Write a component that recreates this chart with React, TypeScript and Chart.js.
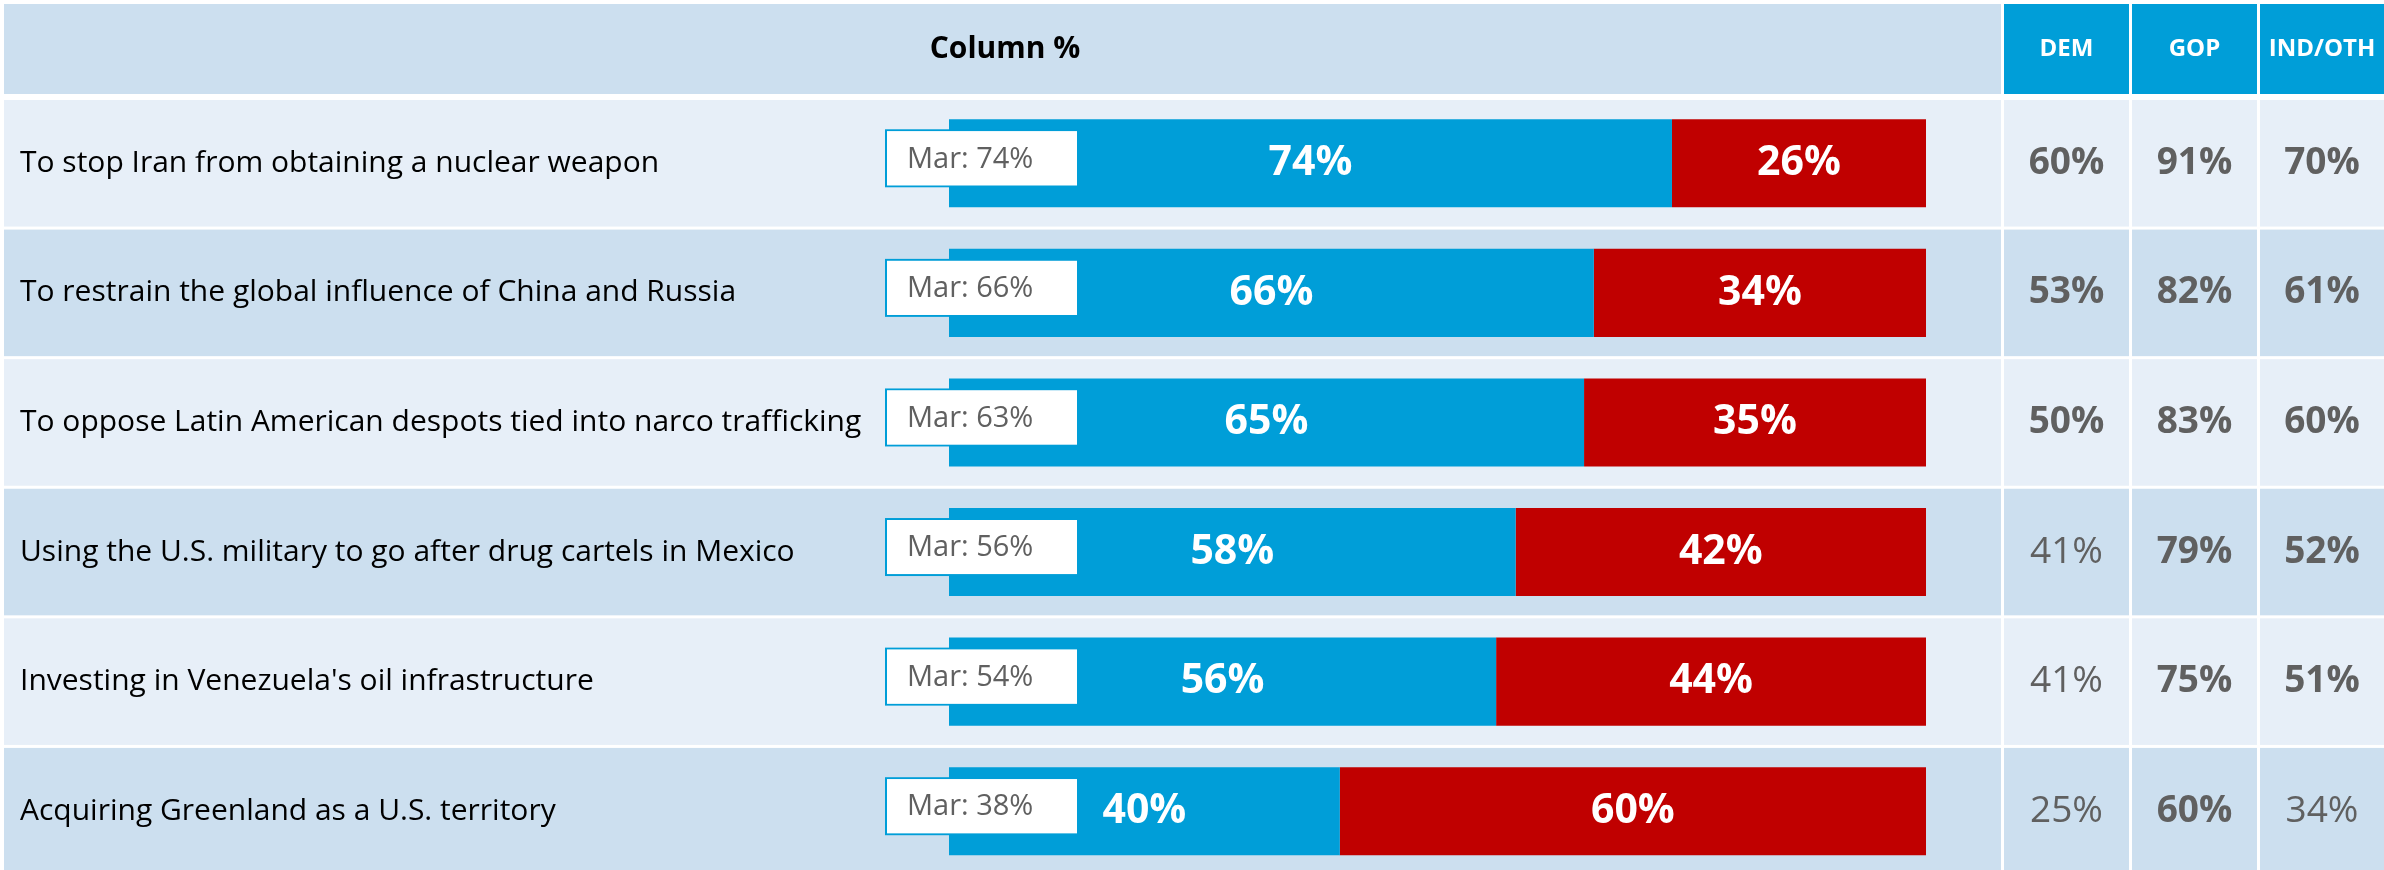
import React, { useEffect, useRef } from "react";
import { Chart, registerables } from "chart.js";

Chart.register(...registerables);

const categories = [
  "To stop Iran from obtaining a nuclear weapon",
  "To restrain the global influence of China and Russia",
  "To oppose Latin American despots tied into narco trafficking",
  "Using the U.S. military to go after drug cartels in Mexico",
  "Investing in Venezuela's oil infrastructure",
  "Acquiring Greenland as a U.S. territory",
];
const supportValues = [74, 66, 65, 58, 56, 40];
const opposeValues = [26, 34, 35, 42, 44, 60];
const marchValues = [74, 66, 63, 56, 54, 38];
const partyHeaders = ["DEM", "GOP", "IND/OTH"];
const demValues = [60, 53, 50, 41, 41, 25];
const gopValues = [91, 82, 83, 79, 75, 60];
const indValues = [70, 61, 60, 52, 51, 34];
const demBold = [true, true, true, false, false, false];
const gopBold = [true, true, true, true, true, true];
const indBold = [true, true, true, true, true, false];
const headerTitle = "Column %";
const marchPrefix = "Mar: ";

const BLUE = "#009ED8";
const RED = "#C00000";
const LIGHT = "#E7EFF8";
const DARK = "#CCDFEF";
const GRAY = "#606060";
const FONT = "'Open Sans', 'DejaVu Sans', sans-serif";

const W = 2384;
const H = 876;
const tableLeft = 4;
const labelColRight = 2001;
const partyCols = [
  [2004, 2129],
  [2132, 2257],
  [2260, 2384],
];

const tablePlugin = {
  id: "tablePlugin",
  beforeDatasetsDraw(chart: any) {
    const ctx = chart.ctx;
    const ys = chart.scales.y;
    const pitch = ys.getPixelForValue(1) - ys.getPixelForValue(0);
    ctx.save();
    ctx.fillStyle = "#FFFFFF";
    ctx.fillRect(0, 0, W, H);
    // header
    ctx.fillStyle = DARK;
    ctx.fillRect(tableLeft, 4, labelColRight - tableLeft, 90);
    partyCols.forEach(([a, b], k) => {
      ctx.fillStyle = BLUE;
      ctx.fillRect(a, 4, b - a, 90);
      ctx.fillStyle = "#FFFFFF";
      ctx.font = `bold 24px ${FONT}`;
      ctx.textAlign = "center";
      ctx.textBaseline = "middle";
      ctx.fillText(partyHeaders[k], (a + b) / 2, 49);
    });
    ctx.fillStyle = "#000000";
    ctx.font = `bold 30px ${FONT}`;
    ctx.textAlign = "center";
    ctx.textBaseline = "middle";
    ctx.fillText(headerTitle, 1005, 49);
    // rows
    categories.forEach((_, i) => {
      const c = ys.getPixelForValue(i);
      const top = c - pitch / 2 + 1.5;
      const h = pitch - 3;
      ctx.fillStyle = i % 2 === 0 ? LIGHT : DARK;
      ctx.fillRect(tableLeft, top, labelColRight - tableLeft, h);
      partyCols.forEach(([a, b]) => ctx.fillRect(a, top, b - a, h));
    });
    ctx.restore();
  },
  afterDatasetsDraw(chart: any) {
    const ctx = chart.ctx;
    const ys = chart.scales.y;
    const left = chart.chartArea.left;
    ctx.save();
    categories.forEach((label, i) => {
      const c = ys.getPixelForValue(i);
      // category label
      ctx.fillStyle = "#000000";
      ctx.font = `30px ${FONT}`;
      ctx.textAlign = "left";
      ctx.textBaseline = "middle";
      ctx.fillText(label, 20, c);
      // march box
      const bx = left - 63;
      const by = c - 33;
      ctx.fillStyle = "#FFFFFF";
      ctx.fillRect(bx, by, 192, 56);
      ctx.strokeStyle = BLUE;
      ctx.lineWidth = 2;
      ctx.strokeRect(bx, by, 192, 56);
      ctx.fillStyle = "#FFFFFF";
      ctx.fillRect(bx + 1, by + 1, 190, 54);
      ctx.fillStyle = GRAY;
      ctx.font = `29px ${FONT}`;
      ctx.textAlign = "left";
      ctx.fillText(`${marchPrefix}${marchValues[i]}%`, bx + 21, c - 4);
      // party values
      const vals = [demValues[i], gopValues[i], indValues[i]];
      const bolds = [demBold[i], gopBold[i], indBold[i]];
      partyCols.forEach(([a, b], k) => {
        ctx.fillStyle = GRAY;
        ctx.font = `${bolds[k] ? "bold " : ""}37px ${FONT}`;
        ctx.textAlign = "center";
        ctx.fillText(`${vals[k]}%`, (a + b) / 2, c);
      });
    });
    // bar value labels
    chart.data.datasets.forEach((ds: any, di: number) => {
      const meta = chart.getDatasetMeta(di);
      meta.data.forEach((el: any, i: number) => {
        const p = el.getProps(["x", "y", "base"], true);
        ctx.fillStyle = "#FFFFFF";
        ctx.font = `bold 41px ${FONT}`;
        ctx.textAlign = "center";
        ctx.textBaseline = "middle";
        ctx.fillText(`${ds.data[i]}%`, (p.x + p.base) / 2, p.y);
      });
    });
    ctx.restore();
  },
};

export default function App() {
  const ref = useRef<HTMLCanvasElement | null>(null);
  useEffect(() => {
    if (!ref.current) return;
    const chart = new Chart(ref.current, {
      type: "bar",
      data: {
        labels: categories,
        datasets: [
          { label: "Support", data: supportValues, backgroundColor: BLUE, borderWidth: 0 },
          { label: "Oppose", data: opposeValues, backgroundColor: RED, borderWidth: 0 },
        ],
      },
      options: {
        indexAxis: "y",
        responsive: false,
        maintainAspectRatio: false,
        animation: false,
        devicePixelRatio: 1,
        layout: { padding: { left: 949, right: W - 1926, top: 98.5, bottom: 0 } },
        datasets: { bar: { barPercentage: 0.68, categoryPercentage: 1 } },
        scales: {
          x: { stacked: true, min: 0, max: 100, display: false },
          y: { stacked: true, display: false },
        },
        plugins: { legend: { display: false }, tooltip: { enabled: false } },
      } as any,
      plugins: [tablePlugin],
    });
    return () => chart.destroy();
  }, []);
  return (
    <div style={{ position: "fixed", left: 0, top: 0, width: W, height: 870, overflow: "hidden", background: "#fff" }}>
      <canvas ref={ref} width={W} height={H} style={{ width: W, height: H, display: "block" }} />
    </div>
  );
}
